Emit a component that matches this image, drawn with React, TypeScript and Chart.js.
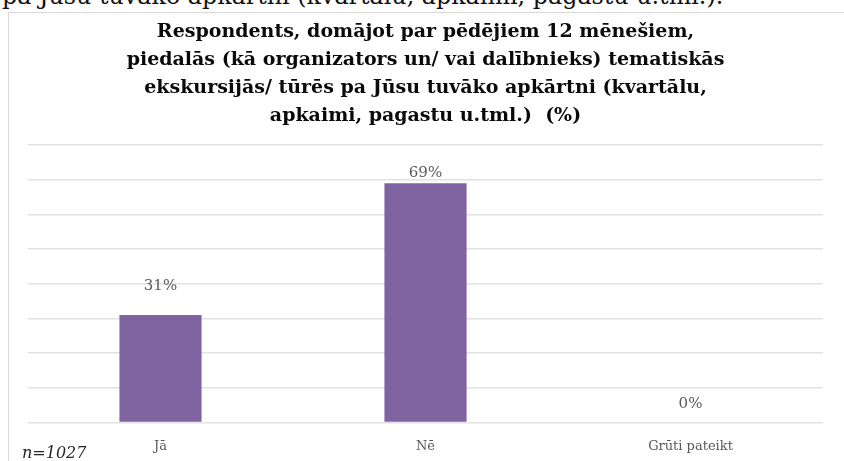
import React, { useEffect, useRef } from "react";
import { Chart, registerables } from "chart.js";

Chart.register(...registerables);

// ---- data ----
const categories = ["Jā", "Nē", "Grūti pateikt"];
const values = [31, 69, 0];
const valueLabels = ["31%", "69%", "0%"];
const titleLines = [
  "Respondents, domājot par pēdējiem 12 mēnešiem,",
  "piedalās (kā organizators un/ vai dalībnieks) tematiskās",
  "ekskursijās/ tūrēs pa Jūsu tuvāko apkārtni (kvartālu,",
  "apkaimi, pagastu u.tml.)  (%)",
];
const yMin = 0;
const yMax = 80;
const yStep = 10;
const sampleNote = "n=1027";
const topClippedText = "pa Jūsu tuvāko apkārtni (kvartālu, apkaimi, pagastu u.tml.).";

// ---- style constants ----
const SERIF = "'DejaVu Serif', 'Liberation Serif', serif";
const BAR_COLOR = "#8064a2";
const labelLift = [29, 10, 18];

const valueLabelPlugin = {
  id: "valueLabels",
  afterDatasetsDraw(chart: any) {
    const ctx = chart.ctx;
    const meta = chart.getDatasetMeta(0);
    ctx.save();
    ctx.font = `15px ${SERIF}`;
    ctx.fillStyle = "#595959";
    ctx.textAlign = "center";
    ctx.textBaseline = "middle";
    meta.data.forEach((el: any, i: number) => {
      const { x, y } = el.getProps(["x", "y"], true);
      ctx.fillText(valueLabels[i], x, y - labelLift[i]);
    });
    ctx.restore();
  },
};

export default function App() {
  const canvasRef = useRef<HTMLCanvasElement | null>(null);

  useEffect(() => {
    if (!canvasRef.current) return;
    const chart = new Chart(canvasRef.current, {
      type: "bar",
      data: {
        labels: categories,
        datasets: [
          {
            data: values,
            backgroundColor: BAR_COLOR,
            borderWidth: 0,
            barPercentage: 0.31,
            categoryPercentage: 1,
          },
        ],
      },
      options: {
        animation: false,
        responsive: false,
        maintainAspectRatio: false,
        layout: { padding: { left: 19, right: 21, top: 0, bottom: 6 } },
        plugins: {
          legend: { display: false },
          tooltip: { enabled: false },
          title: {
            display: true,
            text: titleLines,
            color: "#0a0a0a",
            font: { family: SERIF, size: 19, weight: "bold", lineHeight: 28 / 19 },
            padding: { top: 5, bottom: 15 },
          },
        },
        scales: {
          x: {
            grid: { display: false, drawTicks: false },
            border: { display: false },
            ticks: { color: "#595959", font: { family: SERIF, size: 13 }, padding: 16 },
          },
          y: {
            min: yMin,
            max: yMax,
            ticks: { display: false, stepSize: yStep },
            grid: { color: "#e2e2e2", lineWidth: 1.5, drawTicks: false },
            border: { display: false },
          },
        },
      },
      plugins: [valueLabelPlugin],
    } as any);
    return () => chart.destroy();
  }, []);

  return (
    <div
      style={{
        position: "fixed",
        left: 0,
        top: 0,
        width: 844,
        height: 461,
        overflow: "hidden",
        background: "#ffffff",
      }}
    >
      <div
        style={{
          position: "absolute",
          left: 2,
          top: -16,
          font: `23.8px ${SERIF}`,
          lineHeight: "24px",
          whiteSpace: "nowrap",
          color: "#111111",
        }}
      >
        {topClippedText}
      </div>
      <div
        style={{
          position: "absolute",
          left: 8,
          top: 12,
          width: 900,
          height: 500,
          border: "1px solid #d9d9d9",
          boxSizing: "border-box",
        }}
      />
      <canvas
        ref={canvasRef}
        width={835}
        height={463}
        style={{ position: "absolute", left: 9, top: 13, width: 835, height: 463 }}
      />
      <div
        style={{
          position: "absolute",
          left: 22,
          top: 445,
          font: `italic 16px ${SERIF}`,
          lineHeight: "16px",
          whiteSpace: "nowrap",
          color: "#262626",
        }}
      >
        {sampleNote}
      </div>
    </div>
  );
}
